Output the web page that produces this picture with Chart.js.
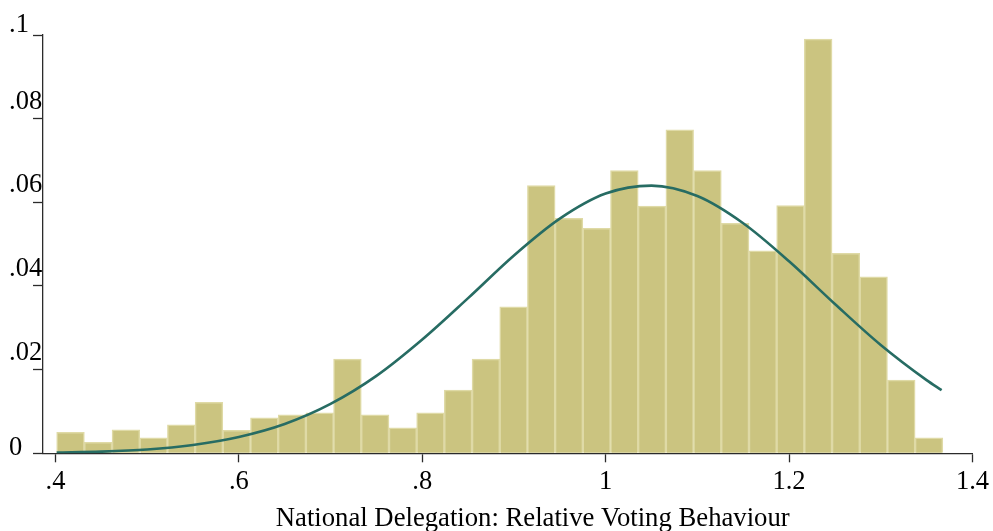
<!DOCTYPE html>
<html>
<head>
<meta charset="utf-8">
<script src="https://cdn.jsdelivr.net/npm/chart.js@4/dist/chart.umd.min.js"></script>
<style>
  html, body { margin: 0; padding: 0; background: #ffffff; }
  canvas { display: block; }
</style>
</head>
<body>
<canvas id="chart" width="993" height="531"></canvas>
<script>
// Histogram bins: centre of each bin on the relative-voting scale
const binCenters = [
  0.4164, 0.4466, 0.4768, 0.5070, 0.5372, 0.5674, 0.5976, 0.6278,
  0.6580, 0.6882, 0.7184, 0.7486, 0.7788, 0.8090, 0.8392, 0.8694,
  0.8996, 0.9298, 0.9600, 0.9902, 1.0204, 1.0506, 1.0808, 1.1110,
  1.1412, 1.1714, 1.2016, 1.2318, 1.2620, 1.2922, 1.3224, 1.3526
];
// Fraction of observations in each bin
const binFractions = [
  0.0050, 0.0026, 0.0056, 0.0037, 0.0068, 0.0122, 0.0055, 0.0085,
  0.0092, 0.0097, 0.0225, 0.0092, 0.0061, 0.0097, 0.0151, 0.0225,
  0.0350, 0.0640, 0.0562, 0.0538, 0.0676, 0.0591, 0.0773, 0.0676,
  0.0550, 0.0484, 0.0592, 0.0990, 0.0478, 0.0422, 0.0175, 0.0037
];
// Overlaid normal curve
const curveX = [
  0.4013, 0.45, 0.50, 0.55, 0.60, 0.65, 0.70, 0.75, 0.80, 0.85, 0.90,
  0.95, 1.00, 1.05, 1.10, 1.15, 1.20, 1.25, 1.30, 1.35, 1.3664
];
const curveY = [
  0.0002, 0.0004, 0.0009, 0.0020, 0.0039, 0.0070, 0.0118, 0.0185, 0.0272, 0.0371, 0.0473,
  0.0561, 0.0621, 0.0640, 0.0615, 0.0550, 0.0459, 0.0357, 0.0259, 0.0175, 0.0151
];
// Axis ticks
const xTickValues = [0.4, 0.6, 0.8, 1.0, 1.2, 1.4];
const xTickLabels = ['.4', '.6', '.8', '1', '1.2', '1.4'];
const yTickValues = [0, 0.02, 0.04, 0.06, 0.08, 0.1];
const yTickLabels = ['0', '.02', '.04', '.06', '.08', '.1'];
const xTitle = 'National Delegation: Relative Voting Behaviour';

const FONT = '"Liberation Serif", "Times New Roman", serif';
const AXIS_COLOR = '#2b2b2b';

// Y labels sit above their tick marks, left-aligned at the canvas edge
const yLabelRaise = [5, 17, 17, 17, 17, 10];
const yLabelPlugin = {
  id: 'yLabels',
  afterDraw(chart) {
    const { ctx } = chart;
    const scale = chart.scales.y;
    ctx.save();
    ctx.font = '26.5px ' + FONT;
    ctx.fillStyle = '#000000';
    ctx.textAlign = 'left';
    ctx.textBaseline = 'middle';
    yTickValues.forEach((v, i) => {
      ctx.fillText(yTickLabels[i], scale.left, scale.getPixelForValue(v) - yLabelRaise[i]);
    });
    ctx.restore();
  }
};

// Axis title, drawn a little right of the plot centre
const xTitlePlugin = {
  id: 'xTitle',
  afterDraw(chart) {
    const { ctx, chartArea } = chart;
    ctx.save();
    ctx.font = '26.7px ' + FONT;
    ctx.fillStyle = '#000000';
    ctx.textAlign = 'center';
    ctx.textBaseline = 'alphabetic';
    ctx.fillText(xTitle, (chartArea.left + chartArea.right) / 2 + 25, 526);
    ctx.restore();
  }
};

const barData = binCenters.map((x, i) => ({ x: x, y: binFractions[i] }));
const lineData = curveX.map((x, i) => ({ x: x, y: curveY[i] }));

new Chart(document.getElementById('chart'), {
  type: 'bar',
  data: {
    datasets: [
      {
        type: 'line',
        data: lineData,
        borderColor: '#276c63',
        borderWidth: 2.6,
        pointRadius: 0,
        fill: false,
        cubicInterpolationMode: 'monotone',
        order: 0
      },
      {
        type: 'bar',
        data: barData,
        backgroundColor: '#cbc480',
        borderColor: '#dfdaa6',
        borderWidth: 1.5,
        barPercentage: 1.0,
        categoryPercentage: 1.0,
        order: 1
      }
    ]
  },
  options: {
    responsive: false,
    animation: false,
    events: [],
    layout: { padding: { left: 9, right: 20.5, top: 35, bottom: 0 } },
    plugins: {
      legend: { display: false },
      tooltip: { enabled: false },
      title: { display: false }
    },
    scales: {
      x: {
        type: 'linear',
        min: 0.3864,
        max: 1.4,
        offset: false,
        z: 1,
        afterFit(scale) { scale.height = 77.7; },
        afterBuildTicks(scale) { scale.ticks = xTickValues.map(v => ({ value: v })); },
        ticks: {
          font: { family: FONT, size: 26.5 },
          color: '#000000',
          padding: 4,
          maxRotation: 0,
          autoSkip: false,
          callback: (v, i) => xTickLabels[i]
        },
        grid: {
          offset: false,
          drawOnChartArea: false,
          drawTicks: true,
          tickLength: 9,
          tickColor: AXIS_COLOR,
          tickWidth: 1.3
        },
        border: { display: true, color: AXIS_COLOR, width: 1.3 }
      },
      y: {
        type: 'linear',
        min: 0,
        max: 0.1,
        z: 1,
        afterFit(scale) { scale.width = 34; },
        afterBuildTicks(scale) { scale.ticks = yTickValues.map(v => ({ value: v })); },
        ticks: {
          display: false
        },
        grid: {
          drawOnChartArea: false,
          drawTicks: true,
          tickLength: 10,
          tickColor: AXIS_COLOR,
          tickWidth: 1.3
        },
        border: { display: true, color: AXIS_COLOR, width: 1.3 }
      }
    }
  },
  plugins: [yLabelPlugin, xTitlePlugin]
});
</script>
</body>
</html>
